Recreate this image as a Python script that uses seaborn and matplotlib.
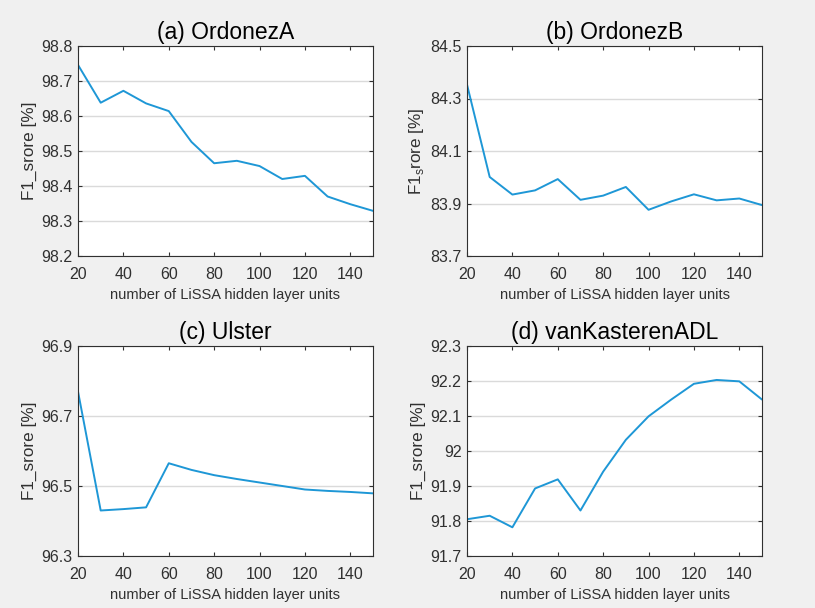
import matplotlib
matplotlib.use("Agg")
import matplotlib.pyplot as plt
import seaborn as sns
import pandas as pd

units = [20, 30, 40, 50, 60, 70, 80, 90, 100, 110, 120, 130, 140, 150]

ordonezA = [98.746, 98.638, 98.672, 98.636, 98.614, 98.526, 98.465, 98.472,
            98.457, 98.420, 98.429, 98.370, 98.348, 98.329]
ordonezB = [84.353, 84.001, 83.934, 83.950, 83.993, 83.914, 83.930, 83.963,
            83.876, 83.908, 83.935, 83.912, 83.919, 83.894]
ulster = [96.770, 96.430, 96.434, 96.439, 96.565, 96.546, 96.531, 96.520,
          96.510, 96.500, 96.490, 96.486, 96.483, 96.479]
vanKasteren = [91.805, 91.815, 91.782, 91.893, 91.919, 91.830, 91.941, 92.032,
               92.099, 92.147, 92.192, 92.203, 92.199, 92.147]

titles = ["(a) OrdonezA", "(b) OrdonezB", "(c) Ulster", "(d) vanKasterenADL"]
ylabels = ["F1_srore [%]", r"F1$_\mathregular{s}$rore [%]", "F1_srore [%]", "F1_srore [%]"]
xlabel = "number of LiSSA hidden layer units"
xticks = [20, 40, 60, 80, 100, 120, 140]
xtick_labels = ["20", "40", "60", "80", "100", "120", "140"]
yticks_a = [98.2, 98.3, 98.4, 98.5, 98.6, 98.7, 98.8]
ylabels_a = ["98.2", "98.3", "98.4", "98.5", "98.6", "98.7", "98.8"]
yticks_b = [83.7, 83.9, 84.1, 84.3, 84.5]
ylabels_b = ["83.7", "83.9", "84.1", "84.3", "84.5"]
yticks_c = [96.3, 96.5, 96.7, 96.9]
ylabels_c = ["96.3", "96.5", "96.7", "96.9"]
yticks_d = [91.7, 91.8, 91.9, 92.0, 92.1, 92.2, 92.3]
ylabels_d = ["91.7", "91.8", "91.9", "92", "92.1", "92.2", "92.3"]

series = [ordonezA, ordonezB, ulster, vanKasteren]
yticks_all = [yticks_a, yticks_b, yticks_c, yticks_d]
yticklabels_all = [ylabels_a, ylabels_b, ylabels_c, ylabels_d]

sns.set_style("white")
plt.rcParams['font.family'] = ['Liberation Sans', 'DejaVu Sans']
plt.rcParams['mathtext.fontset'] = 'custom'
plt.rcParams['mathtext.rm'] = 'Liberation Sans'

W, H = 815, 608
fig = plt.figure(figsize=(W / 100, H / 100), dpi=100, facecolor='#f0f0f0')

# axes boxes in pixels: left, top, right, bottom
boxes = [(78, 46, 373, 256), (467, 46, 762, 256),
         (78, 346, 373, 556), (467, 346, 762, 556)]

dark = '#303030'
line_color = '#1e97d6'

for i in range(4):
    l, t, r, b = boxes[i]
    ax = fig.add_axes([l / W, 1 - b / H, (r - l) / W, (b - t) / H])
    ax.set_facecolor('white')
    df = pd.DataFrame({"units": units, "f1": series[i]})
    sns.lineplot(data=df, x="units", y="f1", ax=ax, color=line_color, linewidth=1.4)
    ax.set_xlim(20, 150)
    ax.set_ylim(yticks_all[i][0], yticks_all[i][-1])
    ax.set_xticks(xticks)
    ax.set_xticklabels(xtick_labels)
    ax.set_yticks(yticks_all[i])
    ax.set_yticklabels(yticklabels_all[i])
    ax.yaxis.grid(True, color='#dadada', linewidth=1.0)
    ax.xaxis.grid(False)
    ax.tick_params(direction='in', length=3, width=0.8, colors=dark, labelsize=11.5,
                   top=True, right=True, bottom=True, left=True)
    ax.tick_params(axis='x', pad=8)
    ax.tick_params(axis='y', pad=4)
    for s in ax.spines.values():
        s.set_color(dark)
        s.set_linewidth(0.8)
        s.set_visible(True)
    ax.set_title(titles[i], fontsize=16.5, color='black', pad=5)
    ax.set_xlabel(xlabel, fontsize=10.5, color=dark, labelpad=4)
    ax.set_ylabel(ylabels[i], fontsize=12.3, color=dark, labelpad=3)

fig.savefig("out.png", dpi=100, facecolor=fig.get_facecolor())
